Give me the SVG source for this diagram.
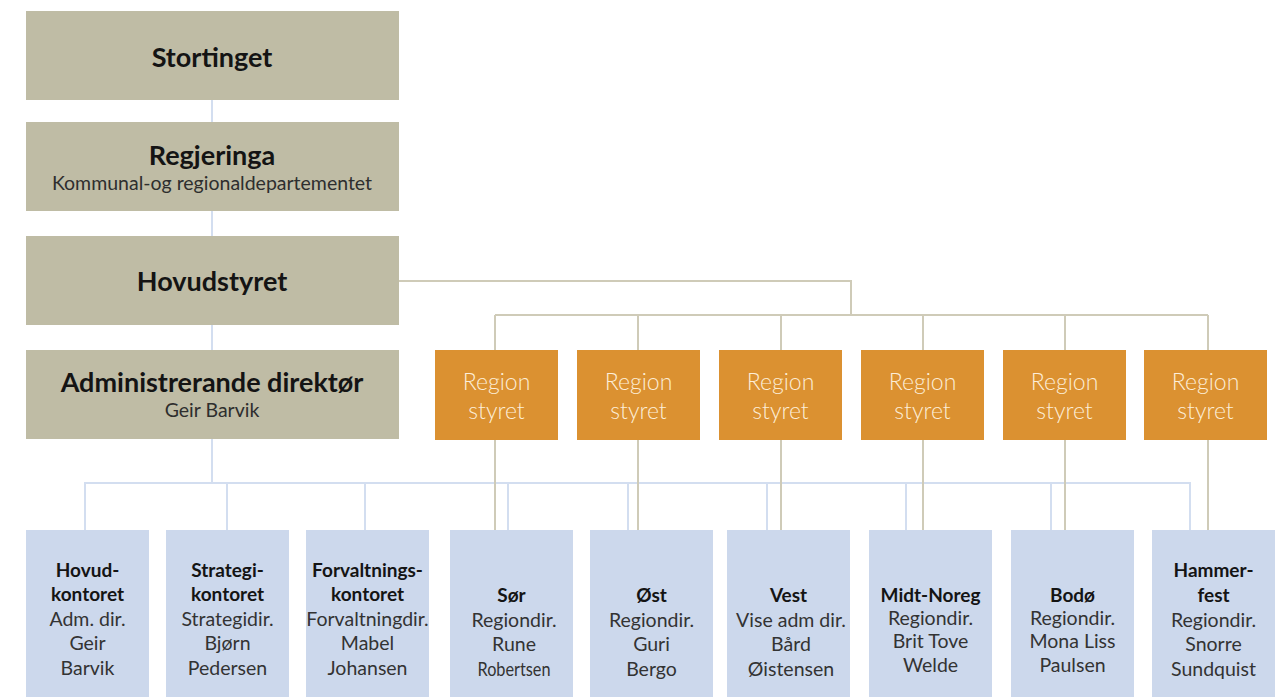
<svg xmlns="http://www.w3.org/2000/svg" width="1278" height="697" viewBox="0 0 1278 697">
<style>
.g{fill:#bfbca5}
.r{fill:#db9131}
.b{fill:#ccd8ec}
.t{font-family:Lato,"Open Sans",sans-serif;text-anchor:middle}
.h{font-weight:700;font-size:27px;fill:#141414}
.s{font-weight:400;font-size:19.5px;fill:#2e2e2e}
.rt{font-weight:300;font-size:23px;fill:#fdeed8}
.bh{font-weight:700;font-size:19px;fill:#141414}
.bs{font-weight:400;font-size:19.5px;fill:#333}
.cb{stroke:#d3def0;stroke-width:2;fill:none}
.cg{stroke:#cfcbb8;stroke-width:2;fill:none}
</style>
<rect width="1278" height="697" fill="#fff"/>
<g id="connectors">
<path class="cb" d="M212 100V122M212 211V236M212 325V350M212 439V483"/>
<path class="cb" d="M85 530V483H1190V530M227 483V530M365 483V530M508 483V530M628 483V530M767 483V530M906 483V530M1051 483V530"/>
<path class="cg" d="M399 281H851V315M495 315H1208M495 315V530M638 315V530M781 315V530M923 315V530M1065 315V530M1208 315V530"/>
</g>
<g id="stortinget"><rect class="g" x="26" y="11" width="373" height="89"/><text class="t h" x="212" y="67">Stortinget</text></g>
<g id="regjeringa"><rect class="g" x="26" y="122" width="373" height="89"/><text class="t h" x="212" y="165">Regjeringa</text><text class="t s" x="212" y="190">Kommunal-og regionaldepartementet</text></g>
<g id="hovudstyret"><rect class="g" x="26" y="236" width="373" height="89"/><text class="t h" x="212" y="291">Hovudstyret</text></g>
<g id="admdir"><rect class="g" x="26" y="350" width="373" height="89"/><text class="t h" x="212" y="392">Administrerande direktør</text><text class="t s" x="212" y="417">Geir Barvik</text></g>
<g id="region1"><rect class="r" x="435" y="350" width="123" height="90"/><text class="t rt" x="496.5" y="390">Region</text><text class="t rt" x="496.5" y="419">styret</text></g>
<g id="region2"><rect class="r" x="577" y="350" width="123" height="90"/><text class="t rt" x="638.5" y="390">Region</text><text class="t rt" x="638.5" y="419">styret</text></g>
<g id="region3"><rect class="r" x="719" y="350" width="123" height="90"/><text class="t rt" x="780.5" y="390">Region</text><text class="t rt" x="780.5" y="419">styret</text></g>
<g id="region4"><rect class="r" x="861" y="350" width="123" height="90"/><text class="t rt" x="922.5" y="390">Region</text><text class="t rt" x="922.5" y="419">styret</text></g>
<g id="region5"><rect class="r" x="1003" y="350" width="123" height="90"/><text class="t rt" x="1064.5" y="390">Region</text><text class="t rt" x="1064.5" y="419">styret</text></g>
<g id="region6"><rect class="r" x="1144" y="350" width="123" height="90"/><text class="t rt" x="1205.5" y="390">Region</text><text class="t rt" x="1205.5" y="419">styret</text></g>
<g id="hovudkontoret"><rect class="b" x="26" y="530" width="123" height="167"/><text class="t bh" x="87.5" y="577">Hovud-</text><text class="t bh" x="87.5" y="601">kontoret</text><text class="t bs" x="87.5" y="626">Adm. dir.</text><text class="t bs" x="87.5" y="650">Geir</text><text class="t bs" x="87.5" y="675">Barvik</text></g>
<g id="strategikontoret"><rect class="b" x="166" y="530" width="123" height="167"/><text class="t bh" x="227.5" y="577">Strategi-</text><text class="t bh" x="227.5" y="601">kontoret</text><text class="t bs" x="227.5" y="626">Strategidir.</text><text class="t bs" x="227.5" y="650">Bjørn</text><text class="t bs" x="227.5" y="675">Pedersen</text></g>
<g id="forvaltningskontoret"><rect class="b" x="306" y="530" width="123" height="167"/><text class="t bh" x="367.5" y="577">Forvaltnings-</text><text class="t bh" x="367.5" y="601">kontoret</text><text class="t bs" x="367.5" y="626">Forvaltningdir.</text><text class="t bs" x="367.5" y="650">Mabel</text><text class="t bs" x="367.5" y="675">Johansen</text></g>
<g id="sor"><rect class="b" x="450" y="530" width="123" height="167"/><text class="t bh" x="511.5" y="602">Sør</text><text class="t bs" x="514" y="627">Regiondir.</text><text class="t bs" x="514" y="651">Rune</text><text class="t bs" x="514" y="676" textLength="73" lengthAdjust="spacingAndGlyphs">Robertsen</text></g>
<g id="ost"><rect class="b" x="590" y="530" width="123" height="167"/><text class="t bh" x="651.5" y="602">Øst</text><text class="t bs" x="651.5" y="627">Regiondir.</text><text class="t bs" x="651.5" y="651">Guri</text><text class="t bs" x="651.5" y="676">Bergo</text></g>
<g id="vest"><rect class="b" x="727" y="530" width="123" height="167"/><text class="t bh" x="788.5" y="602">Vest</text><text class="t bs" x="791" y="627">Vise adm dir.</text><text class="t bs" x="791" y="651">Bård</text><text class="t bs" x="791" y="676">Øistensen</text></g>
<g id="midtnoreg"><rect class="b" x="869" y="530" width="123" height="167"/><text class="t bh" x="930.5" y="602">Midt-Noreg</text><text class="t bs" x="930.5" y="625">Regiondir.</text><text class="t bs" x="930.5" y="648">Brit Tove</text><text class="t bs" x="930.5" y="672">Welde</text></g>
<g id="bodo"><rect class="b" x="1011" y="530" width="123" height="167"/><text class="t bh" x="1072.5" y="602">Bodø</text><text class="t bs" x="1072.5" y="625">Regiondir.</text><text class="t bs" x="1072.5" y="648">Mona Liss</text><text class="t bs" x="1072.5" y="672">Paulsen</text></g>
<g id="hammerfest"><rect class="b" x="1152" y="530" width="123" height="167"/><text class="t bh" x="1213.5" y="577">Hammer-</text><text class="t bh" x="1213.5" y="602">fest</text><text class="t bs" x="1213.5" y="627">Regiondir.</text><text class="t bs" x="1213.5" y="651">Snorre</text><text class="t bs" x="1213.5" y="676">Sundquist</text></g>
</svg>
